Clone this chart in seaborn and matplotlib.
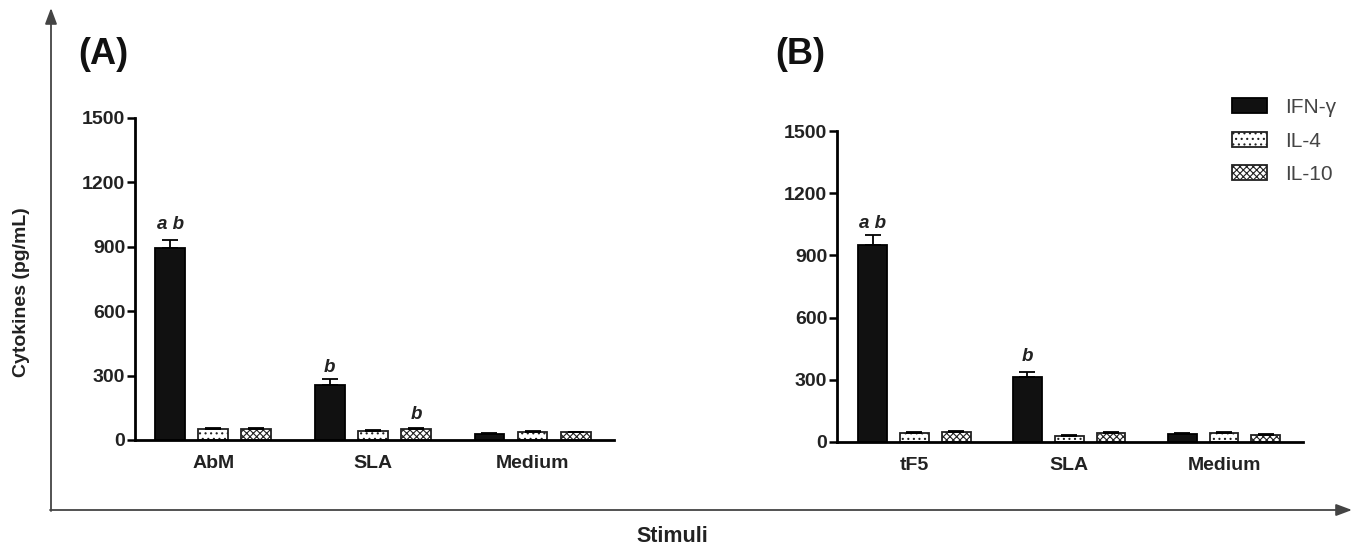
import matplotlib
matplotlib.use("Agg")
import matplotlib.pyplot as plt
import seaborn as sns
import pandas as pd
import numpy as np

# ---------------- data ----------------
cytokines = ["IFN-γ", "IL-4", "IL-10"]

stimuli_A = ["AbM", "SLA", "Medium"]
A_ifn = [895, 255, 28]
A_il4 = [52, 42, 38]
A_il10 = [50, 52, 36]
A_ifn_err = [38, 30, 3]
A_il4_err = [5, 4, 3]
A_il10_err = [4, 5, 3]

stimuli_B = ["tF5", "SLA", "Medium"]
B_ifn = [950, 315, 38]
B_il4 = [45, 30, 43]
B_il10 = [47, 45, 35]
B_ifn_err = [48, 22, 3]
B_il4_err = [5, 4, 3]
B_il10_err = [5, 4, 3]

yticks = [0, 300, 600, 900, 1200, 1500]

# significance letters: (stimulus index, cytokine index, text, y)
A_letters = [(0, 0, "a b", 1005), (1, 0, "b", 340), (1, 2, "b", 118)]
B_letters = [(0, 0, "a b", 1055), (1, 0, "b", 412)]

# ---------------- style ----------------
sns.set_theme(style="ticks")
plt.rcParams["font.family"] = ["Liberation Sans", "DejaVu Sans"]
plt.rcParams["hatch.linewidth"] = 0.8

W, H = 1357, 551
fig = plt.figure(figsize=(W / 100, H / 100), dpi=100)

face = {"IFN-γ": "#111111", "IL-4": "white", "IL-10": "white"}
hatches = {"IFN-γ": None, "IL-4": "...", "IL-10": "xxxxx"}


def frac(left, right, top, bottom):
    return [left / W, 1 - bottom / H, (right - left) / W, (bottom - top) / H]


def panel(rect, stimuli, vals, errs, letters, xlim):
    ax = fig.add_axes(rect)
    df = pd.DataFrame({
        "Stimuli": stimuli * 3,
        "Cytokine": np.repeat(cytokines, 3),
        "Value": vals[0] + vals[1] + vals[2],
    })
    sns.barplot(data=df, x="Stimuli", y="Value", hue="Cytokine",
                order=stimuli, hue_order=cytokines, errorbar=None,
                width=0.81, gap=0.31, palette=face, edgecolor="black",
                linewidth=1.3, ax=ax, legend=False)
    bars = list(ax.containers)
    for ci, cont in enumerate(bars):
        name = cytokines[ci]
        xs, ys = [], []
        for p in cont.patches:
            p.set_facecolor(face[name])
            p.set_edgecolor("black" if name == "IFN-γ" else "#222222")
            if hatches[name]:
                p.set_hatch(hatches[name])
            xs.append(p.get_x() + p.get_width() / 2)
            ys.append(p.get_height())
        e = errs[ci]
        ax.errorbar(xs, ys, yerr=[np.zeros(len(e)), e], fmt="none",
                    ecolor="black", elinewidth=1.3, capsize=6, capthick=1.3,
                    zorder=1)
    for si, ci, txt, y in letters:
        p = bars[ci].patches[si]
        ax.text(p.get_x() + p.get_width() / 2, y, txt, ha="center",
                va="center", fontsize=13.5, fontstyle="italic",
                fontweight="bold", color="#222222")
    ax.set_ylim(0, 1500)
    ax.set_xlim(*xlim)
    ax.set_yticks(yticks)
    ax.set_xlabel("")
    ax.set_ylabel("")
    sns.despine(ax=ax)
    ax.spines["left"].set_linewidth(2)
    ax.spines["bottom"].set_linewidth(2)
    ax.spines["left"].set_color("black")
    ax.spines["bottom"].set_color("black")
    ax.tick_params(axis="y", length=6, width=1.8, labelsize=14,
                   colors="black", pad=1)
    ax.tick_params(axis="x", length=0, labelsize=14, pad=11, colors="black")
    for t in ax.get_yticklabels() + ax.get_xticklabels():
        t.set_fontweight("bold")
        t.set_color("#222222")
    return ax, bars


axA, barsA = panel(frac(135, 614, 118, 440), stimuli_A,
                   [A_ifn, A_il4, A_il10], [A_ifn_err, A_il4_err, A_il10_err],
                   A_letters, (-0.49, 2.51))
axB, barsB = panel(frac(837, 1303, 131, 442), stimuli_B,
                   [B_ifn, B_il4, B_il10], [B_ifn_err, B_il4_err, B_il10_err],
                   B_letters, (-0.50, 2.51))

# legend
handles = [c.patches[0] for c in barsB]
fig.legend(handles, cytokines, loc="upper left",
           bbox_to_anchor=(1232 / W, 1 - 98 / H), frameon=False,
           fontsize=15, handlelength=1.68, handleheight=0.72,
           handletextpad=0.85, labelspacing=0.7, borderpad=0,
           borderaxespad=0, labelcolor="#444444")

# overlay for outer arrows and labels
ov = fig.add_axes([0, 0, 1, 1], facecolor="none")
ov.set_xlim(0, W)
ov.set_ylim(H, 0)
ov.axis("off")
ov.annotate("", xy=(51, 8), xytext=(51, 511),
            arrowprops=dict(arrowstyle="-|>,head_length=0.8,head_width=0.3",
                            color="#444444", lw=1.3, shrinkA=0, shrinkB=0))
ov.annotate("", xy=(1352, 510), xytext=(50, 510),
            arrowprops=dict(arrowstyle="-|>,head_length=0.8,head_width=0.3",
                            color="#444444", lw=1.3, shrinkA=0, shrinkB=0))
ov.text(672, 537, "Stimuli", ha="center", va="center", fontsize=15.5,
        fontweight="bold", color="#222222")
ov.text(22, 292, "Cytokines (pg/mL)", ha="center", va="center",
        rotation=90, fontsize=14, fontweight="bold", color="#222222")
ov.text(78, 55, "(A)", ha="left", va="center", fontsize=26,
        fontweight="bold", color="#111111")
ov.text(775, 55, "(B)", ha="left", va="center", fontsize=26,
        fontweight="bold", color="#111111")

fig.savefig("out.png", dpi=100)
